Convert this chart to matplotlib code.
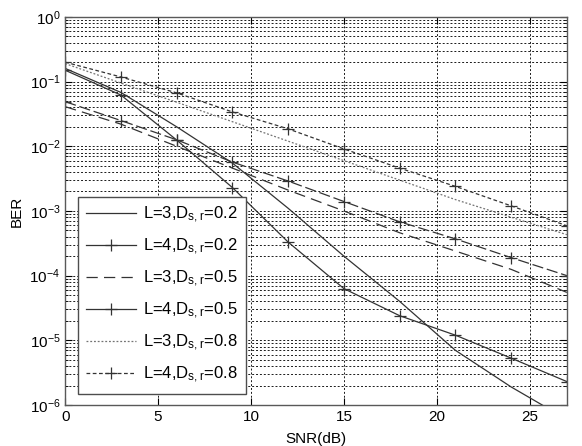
import numpy as np
import matplotlib
matplotlib.use('Agg')
import matplotlib.pyplot as plt
from matplotlib.lines import Line2D

plt.rcParams.update({'font.family': 'Liberation Sans', 'font.size': 10,
                     'mathtext.default': 'regular'})

# SNR points (dB)
snr = [0, 3, 6, 9, 12, 15, 18, 21, 24, 27]

ber_l3_d02 = [0.16, 0.068, 0.02, 5.5e-3, 1.1e-3, 2.0e-4, 4.0e-5, 7.0e-6, 1.9e-6, 0.6e-6]
ber_l4_d02 = [0.15, 0.062, 0.0125, 2.3e-3, 3.3e-4, 6.3e-5, 2.4e-5, 1.2e-5, 5.3e-6, 2.3e-6]
ber_l3_d05 = [0.041, 0.022, 0.010, 4.6e-3, 2.1e-3, 1.0e-3, 4.6e-4, 2.4e-4, 1.25e-4, 5.5e-5]
ber_l4_d05 = [0.049, 0.025, 0.0126, 5.7e-3, 2.9e-3, 1.4e-3, 6.8e-4, 3.7e-4, 1.9e-4, 1.0e-4]
ber_l3_d08 = [0.19, 0.095, 0.048, 0.024, 0.012, 6.0e-3, 3.0e-3, 1.5e-3, 8.0e-4, 4.3e-4]
ber_l4_d08 = [0.20, 0.118, 0.067, 0.034, 0.0186, 9.1e-3, 4.6e-3, 2.4e-3, 1.2e-3, 5.9e-4]

labels = ['L=3,D$_{s,r}$=0.2', 'L=4,D$_{s,r}$=0.2', 'L=3,D$_{s,r}$=0.5',
          'L=4,D$_{s,r}$=0.5', 'L=3,D$_{s,r}$=0.8', 'L=4,D$_{s,r}$=0.8']

lc = '0.2'
fig = plt.figure(figsize=(5.82, 4.46), dpi=100)
ax = fig.add_axes([0.112, 0.092, 0.862, 0.870])

ax.plot(snr, ber_l3_d02, color=lc, lw=0.9, ls='-')
ax.plot(snr, ber_l4_d02, color=lc, lw=0.9, ls='-', marker='+', ms=9, mew=0.9)
ax.plot(snr, ber_l3_d05, color=lc, lw=0.9, ls=(0, (9, 5)))
ax.plot(snr, ber_l4_d05, color=lc, lw=0.9, ls=(0, (9, 3)), marker='+', ms=9, mew=0.9)
ax.plot(snr, ber_l3_d08, color='0.45', lw=0.9, ls=(0, (1.5, 1.5)))
ax.plot(snr, ber_l4_d08, color=lc, lw=0.9, ls=(0, (3, 2)), marker='+', ms=9, mew=0.9)

ax.set_yscale('log')
ax.set_xlim(0, 27)
ax.set_ylim(1e-6, 1)
ax.set_xticks([0, 5, 10, 15, 20, 25])
ax.set_yticks([10.0 ** k for k in range(-6, 1)])
ax.grid(True, which='major', axis='x', color='0.1', ls=(0, (2, 2)), lw=0.7)
ax.grid(True, which='both', axis='y', color='0.1', ls=(0, (2, 2)), lw=0.7)
ax.tick_params(which='both', direction='in', top=True, right=True, labelsize=11)
ax.tick_params(which='major', length=5)
ax.tick_params(which='minor', length=2)
for s in ax.spines.values():
    s.set_color('0.35')
    s.set_linewidth(1.0)

ax.set_xlabel('SNR(dB)', labelpad=6, fontsize=11)
ax.set_ylabel('BER', labelpad=4, fontsize=11)

# legend entries as drawn in the original
handles = [
    Line2D([], [], color=lc, lw=0.9, ls='-'),
    Line2D([], [], color=lc, lw=0.9, ls='-', marker='+', ms=9, mew=0.9),
    Line2D([], [], color=lc, lw=0.9, ls=(0, (9, 5))),
    Line2D([], [], color=lc, lw=0.9, ls='-', marker='+', ms=9, mew=0.9),
    Line2D([], [], color='0.45', lw=0.9, ls=(0, (1.5, 1.5))),
    Line2D([], [], color=lc, lw=0.9, ls=(0, (3, 2)), marker='+', ms=9, mew=0.9),
]
leg = ax.legend(handles, labels, loc='lower left', bbox_to_anchor=(0.008, 0.008),
                fontsize=12, fancybox=False, framealpha=1, edgecolor='0.3',
                handlelength=3.0, labelspacing=0.7, borderpad=0.5, handletextpad=0.4)
leg.get_frame().set_linewidth(1.0)

fig.savefig('out.png', dpi=100)
